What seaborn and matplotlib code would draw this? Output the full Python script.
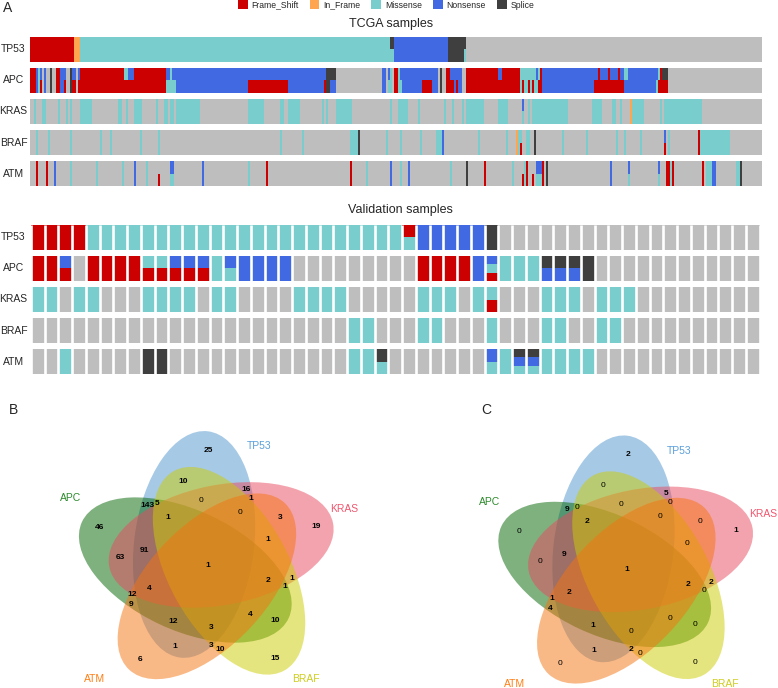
import re
import numpy as np
import matplotlib
matplotlib.use("Agg")
import matplotlib.pyplot as plt
import matplotlib.transforms as mtransforms
from matplotlib.colors import ListedColormap
from matplotlib.patches import Ellipse, Patch
import seaborn as sns

sns.set_theme(style="white")
plt.rcParams["font.family"] = ["Liberation Sans", "DejaVu Sans"]

W, H = 778, 688

GENES = ["TP53", "APC", "KRAS", "BRAF", "ATM"]
MUT_LABELS = ["Frame_Shift", "In_Frame", "Missense", "Nonsense", "Splice"]
MUT_CODES = {".": 0, "F": 1, "I": 2, "M": 3, "N": 4, "S": 5}
MUT_COLORS = ["#BEBEBE", "#CC0000", "#FFA54F", "#79CDCD", "#4169E1", "#3F3F3F"]

# oncoprint rows, run-length coded per sample:
# "N/F2" = 2 samples with Nonsense in the upper half and Frame_Shift in the lower half
TCGA_N = 366
TCGA_TP53 = "F22 I3 M155 S/M2 N27 S8 S/M1 .148"
TCGA_APC = ("F3 N1 M1 N/F1 .1 N1 .2 S1 .2 F2 N2 N/F1 .2 S1 N/F2 .1 N/F1 F22 M/F2 N/F3 F16 "
            "N/M2 M1 N/M2 N36 N/F20 N18 N/F1 S2 S/N3 .23 N2 .1 N/M1 M1 .1 F1 F1 M1 N/M1 N10 "
            "N/F5 N3 .1 S1 .2 F2 N/F2 N1 N/F1 N2 .2 F16 N/F2 F9 M1 M/F1 M2 M/F1 M1 M/F1 M1 "
            "N/M1 M/F1 F1 N26 N/F2 F1 N/F4 F1 N/F4 F1 N/F2 M/N2 N14 N/M1 M/F1 F1 S/F3 .47")
TCGA_KRAS = (".2 M1 .3 M2 .6 M1 .3 M1 .1 M1 .4 M6 .13 M2 .2 M1 .3 M4 .7 M1 .3 M2 .1 M2 .1 M12 "
             ".24 M8 .8 M2 .2 M6 .11 M1 .1 M1 .4 M8 .19 M1 .3 M5 .5 M1 .12 M1 .3 M1 .4 M1 .1 M9 "
             ".7 M5 .7 N/M1 .2 M1 .1 M18 .12 M5 .5 M2 .2 M1 .4 I1 M6 .8 M1 .1 M19 .30")
TCGA_BRAF = (".3 M1 .5 M1 .10 M1 .14 M1 .4 M1 .14 M1 .8 M1 .60 M1 .10 M1 .23 M4 S1 .13 M1 .6 M1 "
             ".9 M1 .7 M3 N1 .17 M1 .13 M1 .4 I1 M1 M/F1 .2 M2 .2 S1 .13 M1 .11 M1 .14 M1 .3 M1 "
             ".7 M1 .11 N/F1 .1 M1 .14 F1 M15 .16")
TCGA_ATM = (".3 F1 .4 F1 .3 N1 .7 M1 .12 M1 .12 M1 .5 N1 .5 M1 .5 ./F1 .5 N/M2 .14 N1 .22 M1 .8 "
            "F1 .41 F1 .7 M1 .11 N1 .4 M1 .3 N1 .20 M1 .7 S1 .8 F1 .13 M1 .4 ./F1 M1 F1 .2 ./F1 "
            ".1 N/M3 F1 .1 S1 .31 N1 .8 N/M1 .14 N/M1 .3 F2 M1 F1 .14 F1 .1 M3 N2 .10 M2 S1 .10")

VALID_N = 53
VALID_TP53 = "F4 M23 F/M1 N5 S1 .19"
VALID_APC = "F2 N/F1 .1 F4 M/F2 N/F3 M1 N/M1 N4 .9 F4 N1 N/M/F1 M3 S/N3 S1 .12"
VALID_KRAS = "M2 .1 M2 .3 M4 .1 M2 .4 M4 .5 M3 .1 M1 M/F1 .3 M3 .1 M3 .9"
VALID_BRAF = ".23 M2 .3 M2 .3 M1 .3 M2 .2 M2 .10"
VALID_ATM = ".2 M1 .5 S2 .13 M2 S/M1 .7 N/M1 M1 S/N/M2 M4 .12"

# venn region counts, keyed by the sets the region belongs to
TCGA_VENN = {
    "TP53": 25, "APC": 46, "KRAS": 19, "ATM": 6, "BRAF": 15,
    "TP53 BRAF": 10, "TP53 KRAS": 16, "TP53 APC": 143, "TP53 ATM": 1, "APC KRAS": 63,
    "APC ATM": 9, "APC BRAF": 10, "KRAS ATM": 3, "KRAS BRAF": 1, "ATM BRAF": 10,
    "TP53 KRAS ATM": 1, "TP53 KRAS BRAF": 0, "TP53 APC BRAF": 5, "TP53 APC KRAS": 91,
    "TP53 APC ATM": 12, "TP53 ATM BRAF": 3, "KRAS ATM BRAF": 1, "APC KRAS BRAF": 1,
    "APC ATM BRAF": 4, "APC KRAS ATM": 12,
    "TP53 KRAS ATM BRAF": 0, "TP53 APC KRAS BRAF": 1, "APC KRAS ATM BRAF": 2,
    "TP53 APC ATM BRAF": 3, "TP53 APC KRAS ATM": 4,
    "TP53 APC KRAS ATM BRAF": 1,
}
VALID_VENN = {
    "TP53": 2, "APC": 0, "KRAS": 1, "ATM": 0, "BRAF": 0,
    "TP53 BRAF": 0, "TP53 KRAS": 5, "TP53 APC": 9, "TP53 ATM": 1, "APC KRAS": 0,
    "APC ATM": 4, "APC BRAF": 0, "KRAS ATM": 0, "KRAS BRAF": 2, "ATM BRAF": 0,
    "TP53 KRAS ATM": 0, "TP53 KRAS BRAF": 0, "TP53 APC BRAF": 0, "TP53 APC KRAS": 9,
    "TP53 APC ATM": 1, "TP53 ATM BRAF": 2, "KRAS ATM BRAF": 0, "APC KRAS BRAF": 0,
    "APC ATM BRAF": 0, "APC KRAS ATM": 1,
    "TP53 KRAS ATM BRAF": 0, "TP53 APC KRAS BRAF": 2, "APC KRAS ATM BRAF": 2,
    "TP53 APC ATM BRAF": 0, "TP53 APC KRAS ATM": 2,
    "TP53 APC KRAS ATM BRAF": 1,
}

# layout / style
SUB, GAP = 12, 3
VENN_ORDER = ["TP53", "APC", "ATM", "BRAF", "KRAS"]   # counter-clockwise from the top
DRAW_ORDER = ["TP53", "APC", "KRAS", "BRAF", "ATM"]
VENN_FILL = {"TP53": "#4F94CD", "APC": "#006400", "KRAS": "#E9495E", "ATM": "#F57410", "BRAF": "#CDCD00"}
VENN_TEXT = {"TP53": "#5A9FDA", "APC": "#2E8B2E", "KRAS": "#F0566E", "ATM": "#FF7F14", "BRAF": "#CDCD1E"}
SEMI_A, SEMI_B = 114, 60
LABEL_XY = {"TP53": (52, 117), "APC": (-137, 65.5), "KRAS": (136.5, 54),
            "ATM": (-112.5, -116), "BRAF": (98.5, -116)}


def fx(px):
    return px / W


def fy(py):
    return 1 - py / H


def expand(code, n):
    cells = []
    for tok in code.split():
        m = re.fullmatch(r"([.FIMNS](?:/[.FIMNS])*)(\d+)", tok)
        cells += [m.group(1).split("/")] * int(m.group(2))
    return cells[:n] + [["."]] * (n - len(cells))


def build(rows, n):
    nrow = len(rows) * SUB + (len(rows) - 1) * GAP
    mat = np.full((nrow, n), np.nan)
    for g, code in enumerate(rows):
        r0 = g * (SUB + GAP)
        for j, layers in enumerate(expand(code, n)):
            h = SUB // len(layers)
            for li, c in enumerate(layers):
                a = r0 + li * h
                b = r0 + SUB if li == len(layers) - 1 else a + h
                mat[a:b, j] = MUT_CODES[c]
    return mat


fig = plt.figure(figsize=(W / 100, H / 100), dpi=100)


def draw_oncoprint(box, rows, n, sep_lw):
    x0, y0, x1, y1 = box
    ax = fig.add_axes([fx(x0), fy(y1), (x1 - x0) / W, (y1 - y0) / H])
    mat = build(rows, n)
    sns.heatmap(mat, ax=ax, cmap=ListedColormap(MUT_COLORS), vmin=-0.5, vmax=5.5,
                mask=np.isnan(mat), cbar=False, xticklabels=False, yticklabels=False)
    if sep_lw:
        ax.vlines(np.arange(n + 1), 0, mat.shape[0], colors="white", linewidth=sep_lw)
    trans = mtransforms.blended_transform_factory(fig.transFigure, ax.transData)
    for g, gene in enumerate(GENES):
        ax.text(fx(13.6), g * (SUB + GAP) + SUB / 2, gene, transform=trans,
                ha="center", va="center", fontsize=7.5)
    return ax


draw_oncoprint((30, 37, 762, 186), [TCGA_TP53, TCGA_APC, TCGA_KRAS, TCGA_BRAF, TCGA_ATM], TCGA_N, 0)
draw_oncoprint((31, 225, 759.5, 374), [VALID_TP53, VALID_APC, VALID_KRAS, VALID_BRAF, VALID_ATM], VALID_N, 1.9)

fig.text(fx(390.8), fy(23.5), "TCGA samples", ha="center", va="center", fontsize=9)
fig.text(fx(400), fy(210), "Validation samples", ha="center", va="center", fontsize=9)

handles = [Patch(facecolor=c, edgecolor="none", label=l) for c, l in zip(MUT_COLORS[1:], MUT_LABELS)]
fig.legend(handles=handles, loc="center", bbox_to_anchor=(fx(386), fy(5)), ncol=5, frameon=False,
           fontsize=6.2, handlelength=1.15, handleheight=1.08, handletextpad=0.45,
           columnspacing=1.25, borderpad=0, borderaxespad=0)


def draw_venn(origin, counts):
    ox, oy = origin
    ax = fig.add_axes([fx(ox - 150), fy(688), 300 / W, 268 / H])
    ax.set_xlim(-150, 150)
    ax.set_ylim(oy - 688, oy - 420)
    ax.axis("off")

    geo = {}
    for k, name in enumerate(VENN_ORDER):
        tip = 90 + 72 * k
        ca = np.deg2rad(tip + 35)
        geo[name] = (23 * np.cos(ca), 23 * np.sin(ca), tip - 7)
    for name in DRAW_ORDER:
        cx, cy, ang = geo[name]
        ax.add_patch(Ellipse((cx, cy), 2 * SEMI_A, 2 * SEMI_B, angle=ang,
                             facecolor=VENN_FILL[name], alpha=0.5, edgecolor="none"))
        lx, ly = LABEL_XY[name]
        ax.text(lx, ly, name, color=VENN_TEXT[name], fontsize=7.5, ha="center", va="center")

    # put each count where its region is widest
    gx, gy = np.meshgrid(np.arange(-160, 160, 1.0), np.arange(-150, 150, 1.0))
    inside = {}
    clear = np.full(gx.shape, np.inf)
    for name in VENN_ORDER:
        cx, cy, ang = geo[name]
        t = np.deg2rad(ang)
        u = (gx - cx) * np.cos(t) + (gy - cy) * np.sin(t)
        v = -(gx - cx) * np.sin(t) + (gy - cy) * np.cos(t)
        q = (u / SEMI_A) ** 2 + (v / SEMI_B) ** 2
        inside[name] = q <= 1
        grad = 2 * np.sqrt(u ** 2 / SEMI_A ** 4 + v ** 2 / SEMI_B ** 4) + 1e-9
        clear = np.minimum(clear, np.abs(q - 1) / grad)
    for key, val in counts.items():
        members = set(key.split())
        m = np.ones(gx.shape, bool)
        for name in VENN_ORDER:
            m &= inside[name] if name in members else ~inside[name]
        if not m.any():
            continue
        i = np.argmax(np.where(m, clear, -1))
        ax.text(gx.flat[i], gy.flat[i] - 2, str(val), fontsize=6, ha="center", va="center",
                fontweight="bold" if val else "normal", color="black")
    return ax


draw_venn((207.3, 563.3), TCGA_VENN)
draw_venn((626.7, 567.7), VALID_VENN)

fig.text(fx(7.5), fy(8.3), "A", ha="center", va="center", fontsize=10)
fig.text(fx(14), fy(410), "B", ha="center", va="center", fontsize=10)
fig.text(fx(486.7), fy(410), "C", ha="center", va="center", fontsize=10)

fig.savefig("out.png", dpi=100)
